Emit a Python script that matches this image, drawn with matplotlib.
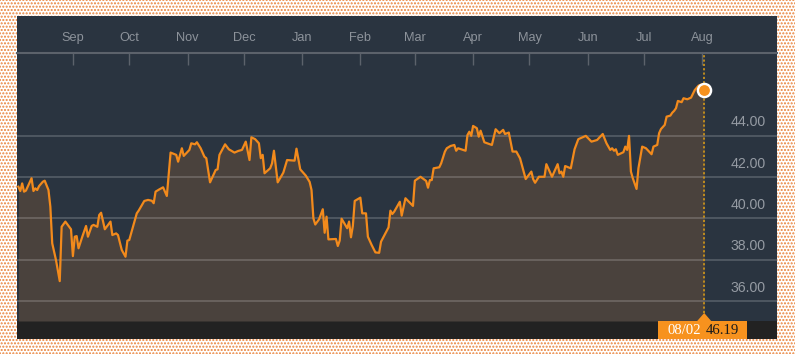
#!/usr/bin/env python3
# -*- coding: utf-8 -*-

import matplotlib
matplotlib.use("Agg")
import matplotlib.pyplot as plt
import matplotlib.dates as mdates
from matplotlib.patches import Rectangle, Polygon
from matplotlib.transforms import IdentityTransform, blended_transform_factory
import pandas as pd

# ==================== ------ DATA ------- ====================
dates = [
    "2015-08-03", "2015-08-04", "2015-08-05", "2015-08-06", "2015-08-07", "2015-08-10",
    "2015-08-11", "2015-08-12", "2015-08-13", "2015-08-14", "2015-08-16", "2015-08-17",
    "2015-08-19", "2015-08-20", "2015-08-21", "2015-08-23", "2015-08-25", "2015-08-26",
    "2015-08-28", "2015-08-31", "2015-09-01", "2015-09-02", "2015-09-03", "2015-09-04",
    "2015-09-06", "2015-09-08", "2015-09-09", "2015-09-11", "2015-09-12", "2015-09-14",
    "2015-09-15", "2015-09-16", "2015-09-18", "2015-09-21", "2015-09-22", "2015-09-24",
    "2015-09-25", "2015-09-27", "2015-09-29", "2015-09-30", "2015-10-01", "2015-10-03",
    "2015-10-05", "2015-10-06", "2015-10-09", "2015-10-11", "2015-10-13", "2015-10-14",
    "2015-10-15", "2015-10-17", "2015-10-19", "2015-10-21", "2015-10-23", "2015-10-26",
    "2015-10-27", "2015-10-29", "2015-10-30", "2015-11-02", "2015-11-03", "2015-11-05",
    "2015-11-06", "2015-11-08", "2015-11-10", "2015-11-11", "2015-11-13", "2015-11-16",
    "2015-11-17", "2015-11-18", "2015-11-21", "2015-11-23", "2015-11-26", "2015-11-28",
    "2015-11-30", "2015-12-02", "2015-12-04", "2015-12-05", "2015-12-07", "2015-12-09",
    "2015-12-10", "2015-12-11", "2015-12-12", "2015-12-15", "2015-12-16", "2015-12-17",
    "2015-12-19", "2015-12-21", "2015-12-22", "2015-12-24", "2015-12-28", "2015-12-29",
    "2015-12-31", "2016-01-03", "2016-01-05", "2016-01-06", "2016-01-07", "2016-01-08",
    "2016-01-10", "2016-01-12", "2016-01-13", "2016-01-14", "2016-01-15", "2016-01-19",
    "2016-01-20", "2016-01-21", "2016-01-22", "2016-01-25", "2016-01-26", "2016-01-27",
    "2016-01-28", "2016-01-29", "2016-02-01", "2016-02-02", "2016-02-04", "2016-02-05",
    "2016-02-07", "2016-02-09", "2016-02-11", "2016-02-12", "2016-02-16", "2016-02-17",
    "2016-02-18", "2016-02-19", "2016-02-22", "2016-02-23", "2016-02-25", "2016-02-29",
    "2016-03-01", "2016-03-03", "2016-03-04", "2016-03-07", "2016-03-08", "2016-03-09",
    "2016-03-10", "2016-03-11", "2016-03-14", "2016-03-15", "2016-03-17", "2016-03-18",
    "2016-03-20", "2016-03-22", "2016-03-23", "2016-03-24", "2016-03-28", "2016-03-29",
    "2016-03-30", "2016-03-31", "2016-04-01", "2016-04-03", "2016-04-04", "2016-04-05",
    "2016-04-07", "2016-04-11", "2016-04-13", "2016-04-15", "2016-04-17", "2016-04-18",
    "2016-04-20", "2016-04-22", "2016-04-24", "2016-04-26", "2016-04-29", "2016-05-02",
    "2016-05-03", "2016-05-04", "2016-05-06", "2016-05-09", "2016-05-10", "2016-05-13",
    "2016-05-16", "2016-05-17", "2016-05-18", "2016-05-19", "2016-05-20", "2016-05-23",
    "2016-05-25", "2016-05-27", "2016-05-31", "2016-06-03", "2016-06-06", "2016-06-09",
    "2016-06-11", "2016-06-13", "2016-06-14", "2016-06-15", "2016-06-16", "2016-06-17",
    "2016-06-20", "2016-06-21", "2016-06-22", "2016-06-23", "2016-06-24", "2016-06-25",
    "2016-06-27", "2016-06-28", "2016-06-30", "2016-07-02", "2016-07-05", "2016-07-06",
    "2016-07-08", "2016-07-09", "2016-07-10", "2016-07-12", "2016-07-13", "2016-07-15",
    "2016-07-16", "2016-07-17", "2016-07-18", "2016-07-19", "2016-07-21", "2016-07-22",
    "2016-07-24", "2016-07-26", "2016-07-28", "2016-07-30", "2016-08-01", "2016-08-02",
]
prices = [
    41.53, 41.32, 41.69, 41.29, 41.34, 41.94,
    41.32, 41.45, 41.37, 41.56, 41.77, 41.82,
    41.37, 40.56, 38.79, 37.98, 36.96, 39.59,
    39.84, 39.47, 38.17, 39.11, 39.14, 38.55,
    39.11, 39.63, 39.11, 39.63, 39.68, 39.59,
    40.16, 40.27, 39.47, 39.84, 39.19, 39.27,
    39.19, 38.47, 38.14, 38.92, 38.95, 39.59,
    40.24, 40.37, 40.84, 40.89, 40.85, 40.73,
    41.29, 41.40, 41.50, 41.08, 43.18, 43.07,
    42.74, 43.39, 43.02, 43.31, 43.63, 43.58,
    43.68, 43.39, 42.98, 42.91, 41.74, 42.34,
    42.37, 43.07, 43.58, 43.34, 43.18, 43.26,
    43.31, 43.71, 42.82, 43.92, 43.83, 43.63,
    42.91, 43.07, 42.18, 42.42, 42.66, 43.27,
    41.74, 42.05, 42.21, 42.82, 42.79, 43.37,
    42.37, 42.06, 41.76, 41.37, 40.00, 39.70,
    39.95, 40.44, 39.30, 40.08, 38.98, 39.00,
    38.66, 38.92, 39.98, 39.52, 39.84, 39.08,
    39.63, 40.84, 41.00, 40.24, 40.24, 39.11,
    38.71, 38.35, 38.33, 38.87, 39.56, 40.37,
    40.21, 40.32, 40.80, 40.13, 40.97, 40.60,
    41.82, 41.95, 42.01, 41.81, 41.48, 41.85,
    41.85, 42.42, 42.47, 42.66, 43.23, 43.39,
    43.50, 43.55, 43.27, 43.39, 43.27, 44.03,
    44.19, 43.99, 44.47, 44.36, 43.95, 44.24,
    43.68, 43.55, 44.31, 44.12, 44.28, 44.08,
    44.15, 43.23, 43.23, 42.90, 41.90, 42.26,
    41.89, 41.72, 42.01, 42.01, 42.62, 42.01,
    42.62, 42.18, 42.26, 42.01, 42.53, 42.42,
    43.34, 43.83, 43.99, 43.71, 43.79, 44.08,
    43.63, 43.31, 43.39, 43.27, 43.34, 43.07,
    43.20, 43.47, 43.31, 43.99, 42.26, 41.94,
    41.42, 42.42, 43.47, 43.39, 43.10, 43.47,
    43.55, 44.12, 44.32, 44.52, 44.92, 44.97,
    45.11, 45.20, 45.33, 45.68, 45.62, 45.81,
    45.76, 45.84, 46.21, 46.42, 46.49, 46.19,
]
month_ticks = ["2015-09-01", "2015-10-01", "2015-11-01", "2015-12-01", "2016-01-01", "2016-02-01",
               "2016-03-01", "2016-04-01", "2016-05-01", "2016-06-01", "2016-07-01", "2016-08-01"]
month_labels = ["Sep", "Oct", "Nov", "Dec", "Jan", "Feb", "Mar", "Apr", "May", "Jun", "Jul", "Aug"]
y_levels = [36, 38, 40, 42, 44]
x_range = ("2015-08-02T06:00", "2016-09-09T18:00")
y_range = (35.03, 48.0)
last_label = "08/02"
last_price = prices[-1]

# ==================== ------ STYLE ------- ====================
BG = "#2a3440"
FILL = "#4a423d"
ORANGE = "#f7921e"
LINE = "#f28a1c"
W, H = 795, 354

x = mdates.date2num(pd.to_datetime(dates))

fig = plt.figure(figsize=(W / 100, H / 100), dpi=100)
fig.patch.set_facecolor("white")

# dotted orange paper behind the panel
fig.add_artist(Rectangle((0, 0), 1, 1, transform=fig.transFigure, facecolor="white",
                         edgecolor="#e9823a", hatch=".....", lw=0, zorder=-10))
# dark panel and bottom bar
fig.add_artist(Rectangle((17 / W, 1 - 339 / H), 760 / W, 323 / H, transform=fig.transFigure,
                         facecolor=BG, lw=0, zorder=-5))
fig.add_artist(Rectangle((17 / W, 1 - 339 / H), 760 / W, 18 / H, transform=fig.transFigure,
                         facecolor="#222222", lw=0, zorder=-4))

ax = fig.add_axes([17 / W, 1 - 321 / H, 760 / W, 268 / H])
ax.set_facecolor(BG)
ax.set_xlim(mdates.date2num(pd.to_datetime(list(x_range), format="ISO8601")))
ax.set_ylim(*y_range)

ax.fill_between(x, prices, y_range[0], color=FILL, lw=0, zorder=1)
for lv in y_levels:
    ax.axhline(lv, color="white", alpha=0.22, lw=1.1, zorder=2)
ax.plot(x, prices, color=LINE, lw=1.6, zorder=3, solid_joinstyle="round")

# y labels on the right, just above each grid line
blend = blended_transform_factory(ax.transAxes, ax.transData)
for lv in y_levels:
    ax.annotate(f"{lv:.2f}", xy=(0.9855, lv), xycoords=blend, xytext=(0, 9.5),
                textcoords="offset points", ha="right", va="center",
                fontsize=10.2, color="#959ba3", family="Liberation Sans")

# month axis on top
for s in ["left", "right", "bottom"]:
    ax.spines[s].set_visible(False)
ax.spines["top"].set_color("#5c626b")
ax.spines["top"].set_linewidth(1.5)
ax.xaxis.tick_top()
ax.set_xticks(mdates.date2num(pd.to_datetime(month_ticks)))
ax.set_xticklabels(month_labels, family="Liberation Sans")
ax.tick_params(axis="x", direction="in", length=8.6, width=1, color="#5c626b",
               labelsize=9.2, labelcolor="#8d939b", pad=6.5)
ax.set_yticks([])

# last point marker + dotted guide
ax.axvline(x[-1], ymin=8 / 268, ymax=1, color="#c8921c", lw=1.3, ls=(0, (1.2, 1.2)), zorder=4)
ax.plot(x[-1], last_price, "o", ms=9.5, mfc=ORANGE, mec="white", mew=1.7, zorder=5, clip_on=False)

# value tag in the bottom bar
px = ax.transData.transform((x[-1], last_price))[0]
ident = IdentityTransform()
fig.add_artist(Rectangle((px - 46, H - 339), 89, 18, transform=ident, facecolor=ORANGE, lw=0, zorder=6))
fig.add_artist(Polygon([(px - 7, H - 321), (px + 7, H - 321), (px, H - 313)], closed=True,
                       transform=ident, facecolor=ORANGE, lw=0, zorder=6))
fig.text(px - 20, H - 330.5, last_label, transform=ident, ha="center", va="center",
         fontsize=10.6, color="white", family="Liberation Serif", zorder=7)
fig.text(px + 18, H - 330.5, f"{last_price:.2f}", transform=ident, ha="center", va="center",
         fontsize=10.6, color="#1a1a1a", family="Liberation Serif", zorder=7)

plt.savefig("out.png", dpi=100, facecolor=fig.get_facecolor())
plt.close()
